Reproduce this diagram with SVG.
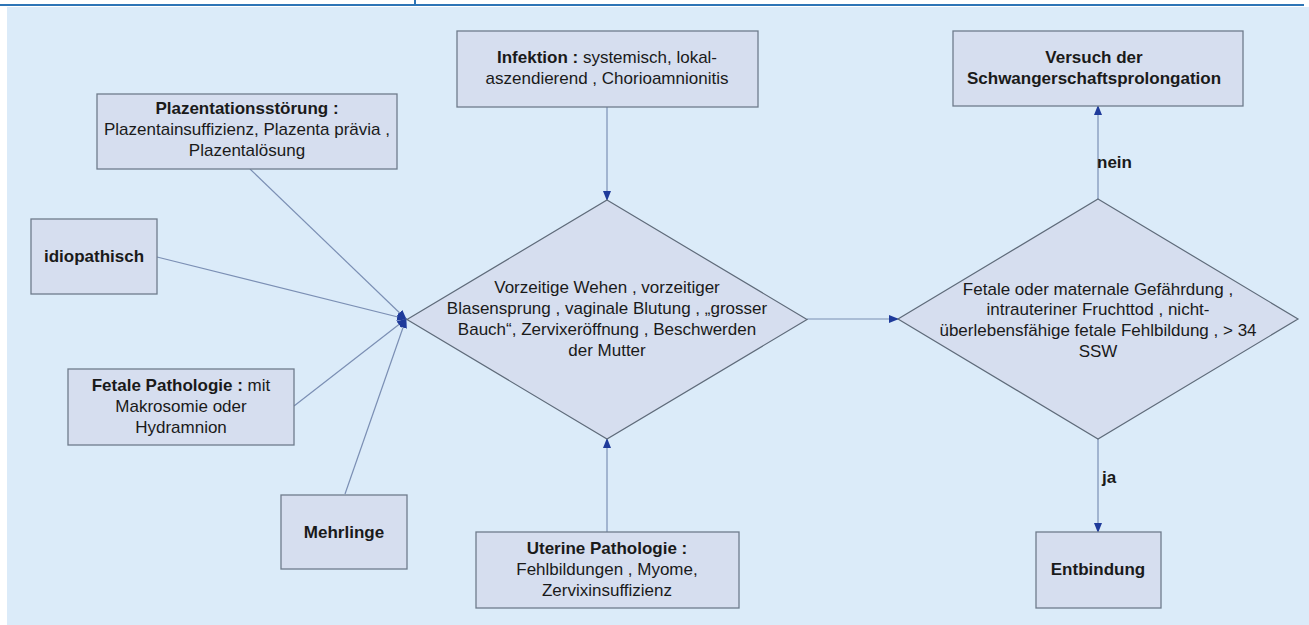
<svg xmlns="http://www.w3.org/2000/svg" width="1309" height="625" viewBox="0 0 1309 625">
<style>
.box{fill:#D6DEEF;stroke:#6F7C8C;stroke-width:1.3}
.dia{fill:#D6DEEF;stroke:#5F6B7A;stroke-width:1.2}
.con{stroke:#7B8FB4;stroke-width:1.2;fill:none}
text{font-family:"Liberation Sans",Arial,sans-serif;font-size:17px;fill:#1A1A1A;text-anchor:middle}
.b{font-weight:bold}
</style>
<defs>
<marker id="arr" markerWidth="10" markerHeight="8" refX="9" refY="4" orient="auto" markerUnits="userSpaceOnUse">
<path d="M0,0 L10,4 L0,8 Z" fill="#1F3B9B"/>
</marker>
</defs>
<rect x="0" y="0" width="1309" height="625" fill="#FFFFFF"/>
<rect x="7" y="7" width="1302" height="618" fill="#DBEBF9"/>
<line x1="0" y1="5" x2="1304" y2="5" stroke="#2E75B6" stroke-width="2.2"/>
<line x1="415" y1="0" x2="415" y2="5" stroke="#2E75B6" stroke-width="2"/>

<g id="connectors">
<line class="con" x1="607" y1="107" x2="607" y2="200" marker-end="url(#arr)"/>
<line class="con" x1="607" y1="532" x2="607" y2="439" marker-end="url(#arr)"/>
<line class="con" x1="807" y1="319" x2="898" y2="319" marker-end="url(#arr)"/>
<line class="con" x1="1098" y1="199" x2="1098" y2="106" marker-end="url(#arr)"/>
<line class="con" x1="1098" y1="439" x2="1098" y2="532" marker-end="url(#arr)"/>
<line class="con" x1="250" y1="169" x2="406" y2="319" marker-end="url(#arr)"/>
<line class="con" x1="157" y1="257" x2="406" y2="319" marker-end="url(#arr)"/>
<line class="con" x1="294" y1="406" x2="406" y2="319" marker-end="url(#arr)"/>
<line class="con" x1="345" y1="494" x2="406" y2="319" marker-end="url(#arr)"/>
<text class="b" x="1097" y="168" style="text-anchor:start">nein</text>
<text class="b" x="1102" y="483" style="text-anchor:start">ja</text>
</g>

<g id="plazentation">
<rect class="box" x="97" y="94" width="300" height="75"/>
<text class="b" x="247" y="114">Plazentationsstörung :</text>
<text x="247" y="135">Plazentainsuffizienz, Plazenta prävia ,</text>
<text x="247" y="156">Plazentalösung</text>
</g>

<g id="idiopathisch">
<rect class="box" x="31" y="219" width="126" height="75"/>
<text class="b" x="94" y="262">idiopathisch</text>
</g>

<g id="fetale">
<rect class="box" x="68" y="369" width="226" height="76"/>
<text x="181" y="391"><tspan class="b">Fetale Pathologie :</tspan> mit</text>
<text x="181" y="412">Makrosomie oder</text>
<text x="181" y="433">Hydramnion</text>
</g>

<g id="mehrlinge">
<rect class="box" x="281" y="495" width="126" height="74"/>
<text class="b" x="344" y="538">Mehrlinge</text>
</g>

<g id="infektion">
<rect class="box" x="457" y="31" width="301" height="76"/>
<text x="607" y="63"><tspan class="b">Infektion :</tspan> systemisch, lokal-</text>
<text x="607" y="84">aszendierend , Chorioamnionitis</text>
</g>

<g id="uterine">
<rect class="box" x="476" y="532" width="263" height="76"/>
<text class="b" x="607" y="554">Uterine Pathologie :</text>
<text x="607" y="575">Fehlbildungen , Myome,</text>
<text x="607" y="596">Zervixinsuffizienz</text>
</g>

<g id="symptome">
<polygon class="dia" points="607,200 807,319.5 607,439 407,319.5"/>
<text x="607" y="293">Vorzeitige Wehen , vorzeitiger</text>
<text x="607" y="314">Blasensprung , vaginale Blutung , „grosser</text>
<text x="607" y="335">Bauch“, Zervixeröffnung , Beschwerden</text>
<text x="607" y="356">der Mutter</text>
</g>

<g id="gefaehrdung">
<polygon class="dia" points="1098,199 1298,319 1098,439 898,319"/>
<text x="1098" y="295">Fetale oder maternale Gefährdung ,</text>
<text x="1098" y="315">intrauteriner Fruchttod , nicht-</text>
<text x="1098" y="336">überlebensfähige fetale Fehlbildung , &gt; 34</text>
<text x="1098" y="357">SSW</text>
</g>

<g id="versuch">
<rect class="box" x="953" y="31" width="290" height="75"/>
<text class="b" x="1094" y="63">Versuch der</text>
<text class="b" x="1094" y="84">Schwangerschaftsprolongation</text>
</g>

<g id="entbindung">
<rect class="box" x="1036" y="532" width="125" height="76"/>
<text class="b" x="1098" y="575">Entbindung</text>
</g>
</svg>
